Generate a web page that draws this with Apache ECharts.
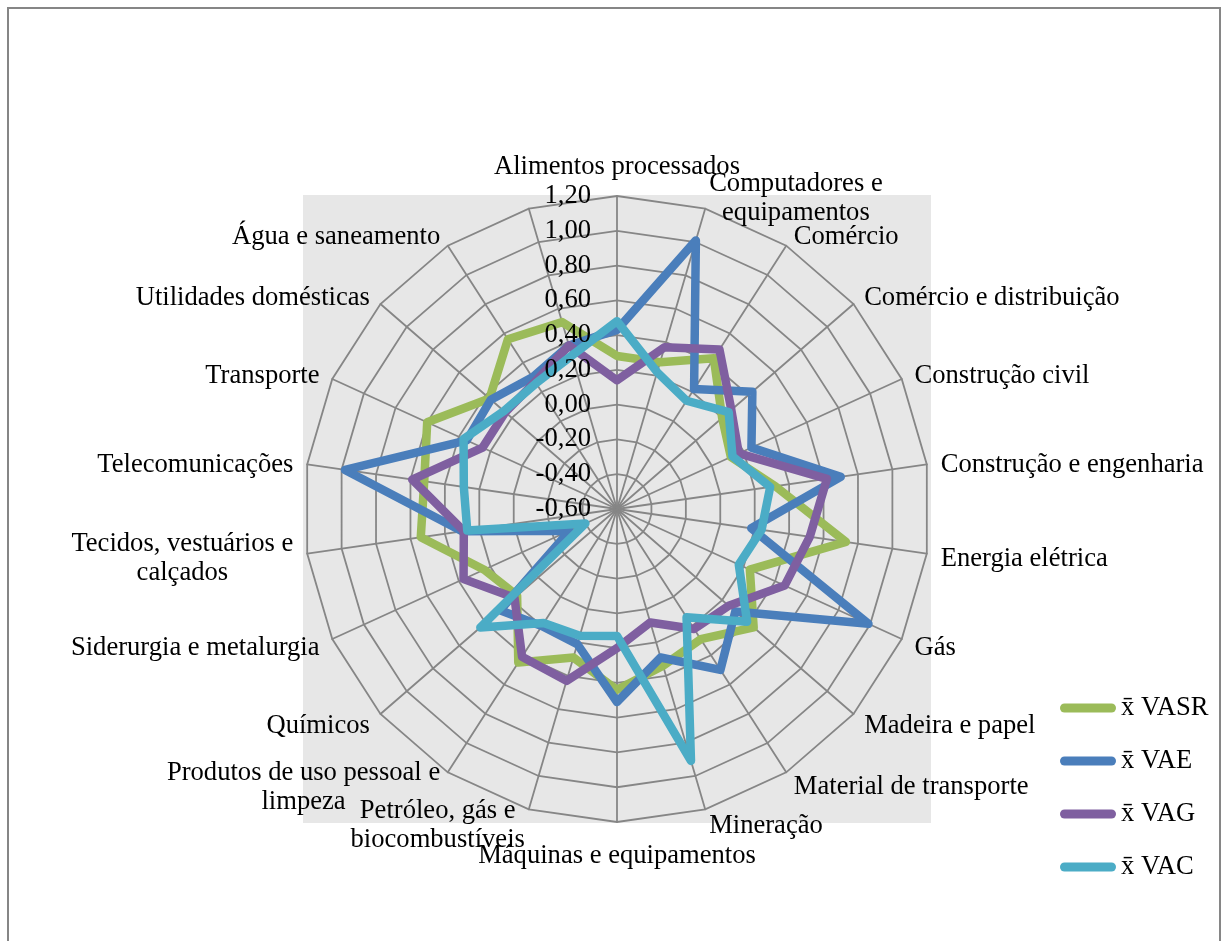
<!DOCTYPE html>
<html>
<head>
<meta charset="utf-8">
<script src="https://cdn.jsdelivr.net/npm/echarts@6/dist/echarts.min.js"></script>
<style>
  html, body { margin: 0; padding: 0; background: #ffffff; }
  #chart { width: 1227px; height: 941px; }
</style>
</head>
<body>
<div id="chart"></div>
<script>
// Sector names, clockwise from the top spoke
const categories = [
  'Alimentos processados',
  'Computadores e\nequipamentos',
  'Comércio',
  'Comércio e distribuição',
  'Construção civil',
  'Construção e engenharia',
  'Energia elétrica',
  'Gás',
  'Madeira e papel',
  'Material de transporte',
  'Mineração',
  'Máquinas e equipamentos',
  'Petróleo, gás e\nbiocombustíveis',
  'Produtos de uso pessoal e\nlimpeza',
  'Químicos',
  'Siderurgia e metalurgia',
  'Tecidos, vestuários e\ncalçados',
  'Telecomunicações',
  'Transporte',
  'Utilidades domésticas',
  'Água e saneamento',
  ''
];

// Mean values per sector
const VASR = [0.28, 0.28, 0.43, 0.20, 0.12, 0.32, 0.73, 0.24, 0.44, 0.29, 0.34, 0.44, 0.29, 0.45, 0.16, 0.24, 0.54, 0.52, 0.60, 0.37, 0.56, 0.52];
const VAE  = [0.43, 1.01, 0.22, 0.43, 0.25, 0.70, 0.18, 0.99, 0.30, 0.50, 0.29, 0.51, 0.21, 0.20, 0.29, -0.30, 0.30, 0.98, 0.35, 0.36, 0.30, 0.38];
const VAG  = [0.14, 0.37, 0.49, 0.27, 0.17, 0.62, 0.52, 0.46, 0.25, 0.22, 0.08, 0.20, 0.43, 0.41, 0.18, 0.37, 0.29, 0.59, 0.25, 0.25, 0.27, 0.38];
const VAC  = [0.48, 0.22, 0.14, 0.25, 0.13, 0.29, 0.24, 0.17, 0.39, 0.14, 0.91, 0.13, 0.16, 0.18, 0.44, -0.40, 0.27, 0.29, 0.37, 0.26, 0.26, 0.32];

const seriesNames = ['x\u0304 VASR', 'x\u0304 VAE', 'x\u0304 VAG', 'x\u0304 VAC'];
const seriesColors = ['#9BBB59', '#4A7EBB', '#7F5FA0', '#4BACC6'];

// Ring values
const ringTicks = [-0.6, -0.4, -0.2, 0, 0.2, 0.4, 0.6, 0.8, 1.0, 1.2];

// Layout
const CX = 617, CY = 509, R = 313;
const FONT = '"Liberation Serif", "Times New Roman", serif';
const FONT_SIZE = 26.6;
const GRID_COLOR = '#868686';

// ECharts places radar indicators counter-clockwise; reorder so the sectors run clockwise.
const n = categories.length;
const order = categories.map((_, k) => (n - k) % n);
const reorder = arr => order.map(i => arr[i]);

const indicators = reorder(categories).map(name => ({
  name: name,
  min: ringTicks[0],
  max: ringTicks[ringTicks.length - 1]
}));

const allSeries = [VASR, VAE, VAG, VAC];

const fmtTick = v => {
  if (Math.abs(v) < 1e-9) return '0,00';
  return v.toFixed(2).replace('.', ',');
};

const chart = echarts.init(document.getElementById('chart'), null, { renderer: 'canvas' });

chart.setOption({
  backgroundColor: '#ffffff',
  animation: false,
  graphic: [
    {
      type: 'rect',
      z: -10,
      shape: { x: 8, y: 8, width: 1212, height: 960 },
      style: { fill: '#ffffff', stroke: '#868686', lineWidth: 2 }
    },
    {
      type: 'rect',
      z: -9,
      shape: { x: CX - R - 1, y: CY - R - 1, width: 2 * R + 2, height: 2 * R + 2 },
      style: { fill: '#E7E7E7' }
    }
  ],
  legend: {
    orient: 'vertical',
    left: 1060,
    top: 693,
    itemWidth: 56,
    itemHeight: 9,
    itemGap: 23,
    padding: 0,
    selectedMode: false,
    textStyle: { fontFamily: FONT, fontSize: FONT_SIZE, color: '#000', lineHeight: 30 },
    data: seriesNames.map(name => ({
      name: name,
      icon: 'path://M4.5,0 L51.5,0 A4.5,4.5 0 0 1 51.5,9 L4.5,9 A4.5,4.5 0 0 1 4.5,0 Z'
    }))
  },
  radar: {
    center: [CX, CY],
    radius: R,
    startAngle: 90,
    shape: 'polygon',
    splitNumber: ringTicks.length - 1,
    indicator: indicators,
    axisNameGap: 14,
    axisName: {
      color: '#000',
      fontFamily: FONT,
      fontSize: FONT_SIZE,
      padding: [6, 0, 0, 0],
      formatter: name => name ? name.split('\n').map(l => '{c|' + l + '}').join('\n') : '',
      rich: {
        c: { align: 'center', fontFamily: FONT, fontSize: FONT_SIZE, color: '#000', lineHeight: 29 }
      }
    },
    axisLine: { lineStyle: { color: GRID_COLOR, width: 1.8 } },
    splitLine: { lineStyle: { color: GRID_COLOR, width: 1.8 } },
    splitArea: { show: false },
    axisTick: { show: false },
    axisLabel: { show: false }
  },
  // Value scale printed along the top spoke
  polar: { center: [CX, CY], radius: R },
  angleAxis: { type: 'value', startAngle: 90, show: false, min: 0, max: 360 },
  radiusAxis: {
    type: 'value',
    min: ringTicks[0],
    max: ringTicks[ringTicks.length - 1],
    interval: ringTicks[1] - ringTicks[0],
    z: 10,
    axisLine: { show: false },
    axisTick: { show: false },
    splitLine: { show: false },
    axisLabel: {
      show: true,
      margin: 26,
      color: '#000',
      fontFamily: FONT,
      fontSize: FONT_SIZE,
      padding: [3, 0, 0, 0],
      formatter: fmtTick
    }
  },
  series: [{
    type: 'radar',
    symbol: 'none',
    z: 3,
    data: allSeries.map((vals, i) => ({
      name: seriesNames[i],
      value: reorder(vals),
      itemStyle: { color: seriesColors[i] },
      lineStyle: { color: seriesColors[i], width: 8.5, join: 'round', cap: 'round' }
    }))
  }]
});
</script>
</body>
</html>
